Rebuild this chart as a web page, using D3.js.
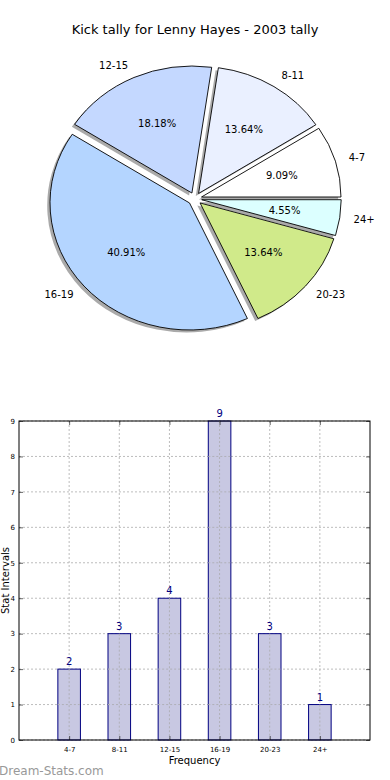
<!DOCTYPE html>
<html>
<head>
<meta charset="utf-8">
<script src="https://cdn.jsdelivr.net/npm/d3@7"></script>
<style>
body{margin:0;background:#fff;}
svg{display:block;font-family:"DejaVu Sans",sans-serif;}
</style>
</head>
<body>
<div id="content"></div>
<script>
// data
var categories = ["4-7","8-11","12-15","16-19","20-23","24+"];
var counts = [2,3,4,9,3,1];
var pieColors = ["#ffffff","#eaf0ff","#c4d8ff","#b4d5ff","#d0ea8a","#dcffff"];
var yTicks = [0,1,2,3,4,5,6,7,8,9];
var titleText = "Kick tally for Lenny Hayes - 2003 tally";

var width = 390, height = 780;
var svg = d3.select("#content").append("svg")
  .attr("width", width)
  .attr("height", height);

svg.append("text")
  .attr("x", 195).attr("y", 34)
  .attr("text-anchor", "middle")
  .style("font-size", "13px")
  .text(titleText);

// pie (elliptical, matplotlib style: counter-clockwise from 3 o'clock)
var cx = 194.8, cy = 198.8, rx = 139.5, ry = 127;
var explode = 0.05;
var total = d3.sum(counts);

var pie = d3.pie().sort(null)
  .startAngle(Math.PI/2)
  .endAngle(Math.PI/2 - 2*Math.PI);
var arcs = pie(counts);
var arc = d3.arc().innerRadius(0).outerRadius(1);

var sx = d3.scaleLinear().domain([-1,1]).range([cx-rx, cx+rx]);
var sy = d3.scaleLinear().domain([-1,1]).range([cy-ry, cy+ry]);

function mid(d){ return (d.startAngle + d.endAngle)/2; }
function ux(d, r){ return Math.sin(mid(d))*r; }
function uy(d, r){ return -Math.cos(mid(d))*r; }

var pieG = svg.append("g");
arcs.forEach(function(d, i){
  var ox = ux(d, explode), oy = uy(d, explode);
  // shadow
  pieG.append("path")
    .attr("d", arc(d))
    .attr("transform", "translate(" + sx(ox - 0.02) + "," + sy(oy + 0.02) + ") scale(" + rx + "," + ry + ")")
    .attr("fill", "#555")
    .attr("fill-opacity", 0.5);
});
arcs.forEach(function(d, i){
  var ox = ux(d, explode), oy = uy(d, explode);
  pieG.append("path")
    .attr("d", arc(d))
    .attr("transform", "translate(" + sx(ox) + "," + sy(oy) + ") scale(" + rx + "," + ry + ")")
    .attr("fill", pieColors[i])
    .attr("stroke", "#000")
    .attr("stroke-width", 0.9)
    .attr("vector-effect", "non-scaling-stroke");
});
arcs.forEach(function(d, i){
  var ox = ux(d, explode), oy = uy(d, explode);
  var lx = ox + ux(d, 1.1), ly = oy + uy(d, 1.1);
  pieG.append("text")
    .attr("x", sx(lx)).attr("y", sy(ly))
    .attr("dy", "0.35em")
    .attr("text-anchor", lx > 0 ? "start" : "end")
    .style("font-size", "10px")
    .text(categories[i]);
  var px = ox + ux(d, 0.6), py = oy + uy(d, 0.6);
  pieG.append("text")
    .attr("x", sx(px)).attr("y", sy(py))
    .attr("dy", "0.35em")
    .attr("text-anchor", "middle")
    .style("font-size", "10px")
    .text((counts[i]/total*100).toFixed(2) + "%");
});

// bar chart
var plotLeft = 19, plotRight = 370, plotTop = 421, plotBottom = 740;
var x = d3.scaleLinear().domain([0, 7]).range([plotLeft, plotRight]);
var y = d3.scaleLinear().domain([0, 9]).range([plotBottom, plotTop]);
var barW = 0.45;
var bg = svg.append("g");

// grid
bg.selectAll(".gy").data(yTicks).enter().append("line")
  .attr("x1", plotLeft).attr("x2", plotRight)
  .attr("y1", function(d){ return y(d); }).attr("y2", function(d){ return y(d); })
  .attr("stroke", "#bdbdbd").attr("stroke-width", 1).attr("stroke-dasharray", "2,2");
bg.selectAll(".gx").data(categories).enter().append("line")
  .attr("x1", function(d,i){ return x(i+1); }).attr("x2", function(d,i){ return x(i+1); })
  .attr("y1", plotTop).attr("y2", plotBottom)
  .attr("stroke", "#bdbdbd").attr("stroke-width", 1).attr("stroke-dasharray", "2,2");

bg.selectAll(".bar").data(counts).enter().append("rect")
  .attr("x", function(d,i){ return x(i+1-barW/2); })
  .attr("y", function(d){ return y(d); })
  .attr("width", x(barW) - x(0))
  .attr("height", function(d){ return y(0) - y(d); })
  .attr("fill", "#c8c8e2")
  .attr("stroke", "#000080").attr("stroke-width", 1);

// grid drawn again over the bars, as in the original
bg.selectAll(".gx2").data(counts).enter().append("line")
  .attr("x1", function(d,i){ return x(i+1); }).attr("x2", function(d,i){ return x(i+1); })
  .attr("y1", function(d){ return y(d); }).attr("y2", plotBottom)
  .attr("stroke", "#b0b0b8").attr("stroke-width", 1).attr("stroke-dasharray", "2,2");
bg.selectAll(".gy2").data(yTicks.slice(1)).enter().append("g").each(function(t){
  var g = d3.select(this);
  counts.forEach(function(c, i){
    if (c > t) {
      g.append("line")
        .attr("x1", x(i+1-barW/2)).attr("x2", x(i+1+barW/2))
        .attr("y1", y(t)).attr("y2", y(t))
        .attr("stroke", "#b0b0b8").attr("stroke-width", 1).attr("stroke-dasharray", "2,2");
    }
  });
});

bg.selectAll(".val").data(counts).enter().append("text")
  .attr("x", function(d,i){ return x(i+1); })
  .attr("y", function(d){ return y(d) - 4; })
  .attr("text-anchor", "middle")
  .attr("fill", "#000080")
  .style("font-size", "10px")
  .text(function(d){ return d; });

// frame
bg.append("rect")
  .attr("x", plotLeft).attr("y", plotTop)
  .attr("width", plotRight-plotLeft).attr("height", plotBottom-plotTop)
  .attr("fill", "none").attr("stroke", "#000").attr("stroke-width", 1);

// axes (inside ticks)
var yAxis = d3.axisLeft(y).tickValues(yTicks).tickSize(-4).tickPadding(4);
var ga = bg.append("g").attr("transform", "translate(" + plotLeft + ",0)").call(yAxis);
ga.select(".domain").remove();
ga.selectAll("text").style("font-size", "7px").style("font-family", "DejaVu Sans");
var yAxisR = d3.axisRight(y).tickValues(yTicks).tickSize(-4).tickFormat("");
var gr = bg.append("g").attr("transform", "translate(" + plotRight + ",0)").call(yAxisR);
gr.select(".domain").remove();

var xAxis = d3.axisBottom(x).tickValues([1,2,3,4,5,6]).tickSize(-4).tickPadding(7)
  .tickFormat(function(d){ return categories[d-1]; });
var gb = bg.append("g").attr("transform", "translate(0," + plotBottom + ")").call(xAxis);
gb.select(".domain").remove();
gb.selectAll("text").style("font-size", "7px").style("font-family", "DejaVu Sans");
var xAxisT = d3.axisTop(x).tickValues([1,2,3,4,5,6]).tickSize(-4).tickFormat("");
var gt = bg.append("g").attr("transform", "translate(0," + plotTop + ")").call(xAxisT);
gt.select(".domain").remove();
svg.selectAll(".tick line").attr("stroke", "#000").attr("stroke-width", 0.6);

svg.append("text")
  .attr("x", x(3.5)).attr("y", 764)
  .attr("text-anchor", "middle")
  .style("font-size", "10px")
  .text("Frequency");

svg.append("text")
  .attr("transform", "translate(9," + ((plotTop+plotBottom)/2) + ") rotate(-90)")
  .attr("text-anchor", "middle")
  .style("font-size", "10px")
  .text("Stat Intervals");

svg.append("text")
  .attr("x", -1).attr("y", 775)
  .attr("fill", "#999")
  .style("font-size", "12px")
  .text("Dream-Stats.com");
</script>
</body>
</html>
